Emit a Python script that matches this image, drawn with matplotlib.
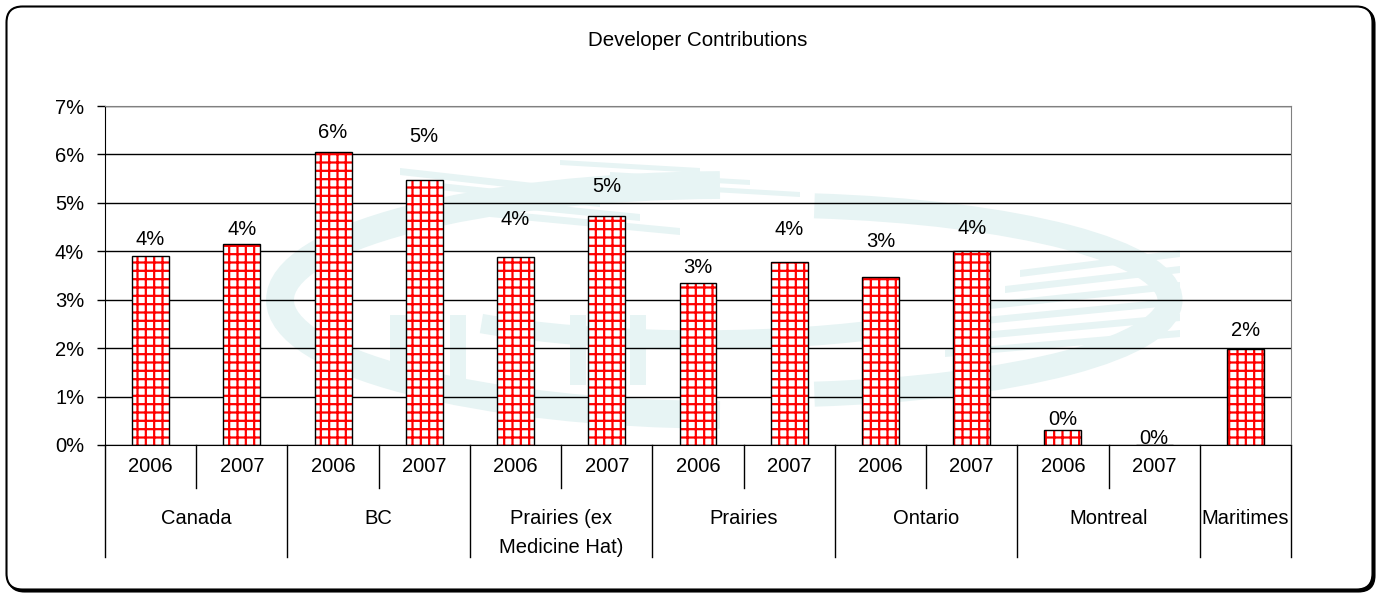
import matplotlib
matplotlib.use("Agg")
import matplotlib.pyplot as plt
from matplotlib.patches import FancyBboxPatch, Polygon, Rectangle, Arc
from matplotlib.ticker import FuncFormatter

plt.rcParams['font.family'] = ['Liberation Sans', 'DejaVu Sans']
plt.rcParams['hatch.linewidth'] = 1.6

# ---- data ----
title = "Developer Contributions"
groups = ["Canada", "BC", "Prairies (ex\nMedicine Hat)", "Prairies", "Ontario", "Montreal", "Maritimes"]
group_sizes = [2, 2, 2, 2, 2, 2, 1]
years = ["2006", "2007", "2006", "2007", "2006", "2007", "2006", "2007",
         "2006", "2007", "2006", "2007", ""]
values = [3.90, 4.15, 6.06, 5.47, 3.88, 4.73, 3.35, 3.77, 3.46, 4.01, 0.31, 0.0, 1.98]
label_y = [4.24, 4.46, 6.45, 6.36, 4.65, 5.33, 3.66, 4.44, 4.21, 4.48, 0.52, 0.14, 2.36]
yticks = [0, 1, 2, 3, 4, 5, 6, 7]

W, H = 1380, 597
fig = plt.figure(figsize=(W / 100, H / 100), dpi=100)

# background axes in pixel coordinates (frame + watermark)
bg = fig.add_axes([0, 0, 1, 1], zorder=0)
bg.set_xlim(0, W)
bg.set_ylim(H, 0)
bg.axis('off')

# shadow + frame
bg.add_patch(FancyBboxPatch((8.5, 8.5), W - 14, H - 14,
                            boxstyle="round,pad=0,rounding_size=16",
                            fc='black', ec='black', lw=1.5))
bg.add_patch(FancyBboxPatch((6.5, 6.5), W - 14, H - 14,
                            boxstyle="round,pad=0,rounding_size=16",
                            fc='white', ec='black', lw=1.5))

# watermark (decorative logo, very light teal)
wm = '#e7f4f4'
bg.add_patch(Arc((730, 300), 900, 230, theta1=95, theta2=265, lw=20, color=wm))
bg.add_patch(Arc((760, 300), 820, 190, theta1=-60, theta2=60, lw=18, color=wm))
bg.add_patch(Arc((700, 265), 700, 150, theta1=20, theta2=165, lw=14, color=wm))
for i in range(4):
    y0 = 168 + i * 14
    bg.add_patch(Polygon([[400 + i * 30, y0], [560 + i * 40, y0 + 18],
                          [560 + i * 40, y0 + 25], [400 + i * 30, y0 + 7]],
                         closed=True, fc=wm, ec='none'))
for i in range(3):
    y0 = 160 + i * 12
    bg.add_patch(Polygon([[560 + i * 50, y0], [700 + i * 50, y0 + 8],
                          [700 + i * 50, y0 + 13], [560 + i * 50, y0 + 5]],
                         closed=True, fc=wm, ec='none'))
for i in range(6):
    y0 = 250 + i * 16
    bg.add_patch(Polygon([[1020 - i * 15, y0 + 20], [1180, y0],
                          [1180, y0 + 7], [1020 - i * 15, y0 + 27]],
                         closed=True, fc=wm, ec='none'))
for xv in [330, 390, 450, 510, 570, 630]:
    bg.add_patch(Rectangle((xv, 315), 16, 70, fc=wm, ec='none'))

# ---- main axes ----
left, right, top, bottom = 105, 1291, 106, 445
ax = fig.add_axes([left / W, 1 - bottom / H, (right - left) / W, (bottom - top) / H], zorder=1)
ax.set_facecolor('none')

n = len(values)
x = list(range(n))
ax.set_xlim(-0.5, n - 0.5)
ax.set_ylim(0, 7)
ax.set_yticks(yticks)
ax.yaxis.set_major_formatter(FuncFormatter(lambda v, p: f"{v:.0f}%"))
ax.tick_params(axis='y', length=6, width=1, labelsize=14.5, pad=9, direction='out')
ax.set_xticks([])
ax.grid(axis='y', color='black', lw=1)
ax.set_axisbelow(True)
for s in ['top', 'right']:
    ax.spines[s].set_color('#808080')
for s in ['left', 'bottom']:
    ax.spines[s].set_color('black')

bw = 0.405
ax.bar(x, values, width=bw, color='white', edgecolor='#ff0000', hatch='++', linewidth=0, zorder=2)
ax.bar(x, values, width=bw, fill=False, edgecolor='black', linewidth=1, zorder=3)

for xi, v, ly in zip(x, values, label_y):
    ax.text(xi, ly, f"{v:.0f}%", ha='center', va='center', fontsize=14.5, zorder=4)

ax.set_title(title, fontsize=14.8, pad=0, y=1 + (106 - 40) / (bottom - top), va='center')

# ---- multi-level category axis ----
trans = ax.get_xaxis_transform()
ah = bottom - top
short = -(488 - bottom) / ah
long_ = -(557 - bottom) / ah
yr_y = -(466 - bottom) / ah
grp_y = -(519 - bottom) / ah
grp2_y = -(533 - bottom) / ah

for xi, yl in zip(x, years):
    if yl:
        ax.text(xi, yr_y, yl, transform=trans, ha='center', va='center', fontsize=14.5)

start = 0
bounds = [-0.5]
for g, sz in zip(groups, group_sizes):
    cx = start + (sz - 1) / 2
    ax.text(cx, grp2_y if '\n' in g else grp_y, g, transform=trans, ha='center',
            va='center', fontsize=14.5, linespacing=1.65)
    for k in range(1, sz):
        xs = start + k - 0.5
        ax.plot([xs, xs], [0, short], transform=trans, color='black', lw=1, clip_on=False)
    start += sz
    bounds.append(start - 0.5)
for xs in bounds:
    ax.plot([xs, xs], [0, long_], transform=trans, color='black', lw=1, clip_on=False)

fig.savefig("out.png", dpi=100)
